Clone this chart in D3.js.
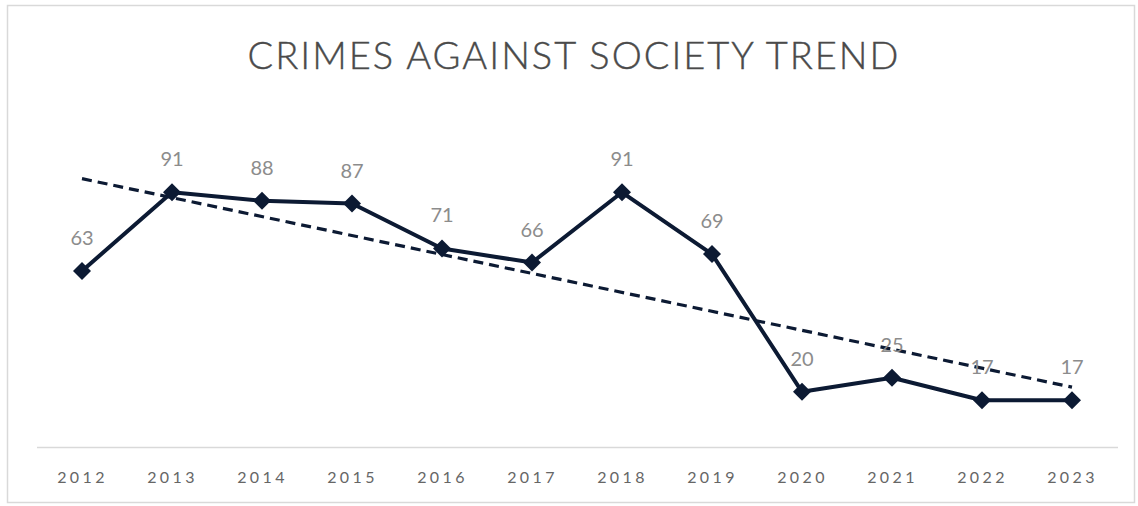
<!DOCTYPE html>
<html><head><meta charset="utf-8">
<script src="https://cdn.jsdelivr.net/npm/d3@7"></script>
<style>body{margin:0;background:#fff}svg{display:block}</style>
</head><body><svg id="c" width="1138" height="506"></svg>
<script>
const title = "CRIMES AGAINST SOCIETY TREND";
const years = ["2012","2013","2014","2015","2016","2017","2018","2019","2020","2021","2022","2023"];
const values = [63,91,88,87,71,66,91,69,20,25,17,17];

const svg = d3.select("#c");
svg.append("rect").attr("x",7.5).attr("y",5.5).attr("width",1127).attr("height",497)
  .attr("fill","#fff").attr("stroke","#d9d9d9").attr("stroke-width",1.5);

svg.append("text").attr("x",574).attr("y",69).attr("text-anchor","middle")
  .attr("font-family","Lato, 'Open Sans', sans-serif").attr("font-size",38).attr("font-weight",300)
  .attr("letter-spacing",2).attr("fill","#4a4a4a").attr("stroke","#4a4a4a").attr("stroke-width",0.4)
  .text(title);

const x = d3.scalePoint().domain(years).range([82,1072]);
const y = d3.scaleLinear().domain([0,100]).range([448,167]);

// axis
const ax = svg.append("g").attr("transform","translate(0,447)")
  .call(d3.axisBottom(x).tickSize(0).tickPadding(0));
ax.select(".domain").remove();
svg.append("line").attr("x1",37).attr("x2",1118).attr("y1",447.5).attr("y2",447.5)
  .attr("stroke","#d9d9d9").attr("stroke-width",1.5);
ax.selectAll("text").attr("y",36).attr("dy",0)
  .attr("font-family","Lato, 'Open Sans', sans-serif").attr("font-size",16)
  .attr("letter-spacing",3.4).attr("fill","#666666");

// trendline (least squares)
const n = values.length;
const xi = d3.range(n);
const mx = d3.mean(xi), my = d3.mean(values);
const slope = d3.sum(xi, i => (i-mx)*(values[i]-my)) / d3.sum(xi, i => (i-mx)*(i-mx));
const icpt = my - slope*mx;
svg.append("line")
  .attr("x1", x(years[0])).attr("y1", y(icpt))
  .attr("x2", x(years[n-1])).attr("y2", y(icpt + slope*(n-1)))
  .attr("stroke","#0c1a33").attr("stroke-width",3.2).attr("stroke-dasharray","10,6");

// main line
const line = d3.line().x((d,i)=>x(years[i])).y(d=>y(d));
svg.append("path").datum(values).attr("d",line).attr("fill","none")
  .attr("stroke","#0c1a33").attr("stroke-width",4).attr("stroke-linejoin","round");

svg.selectAll(".m").data(values).enter().append("path")
  .attr("transform",(d,i)=>`translate(${x(years[i])},${y(d)})`)
  .attr("d","M0,-9L9,0L0,9L-9,0Z").attr("fill","#0c1a33");

svg.selectAll(".lbl").data(values).enter().append("text")
  .attr("x",(d,i)=>x(years[i])).attr("y",d=>y(d)-26)
  .attr("text-anchor","middle").attr("font-family","Lato, 'Open Sans', sans-serif")
  .attr("font-size",20).attr("fill","#8c8c8c").text(d=>d);
</script></body></html>
